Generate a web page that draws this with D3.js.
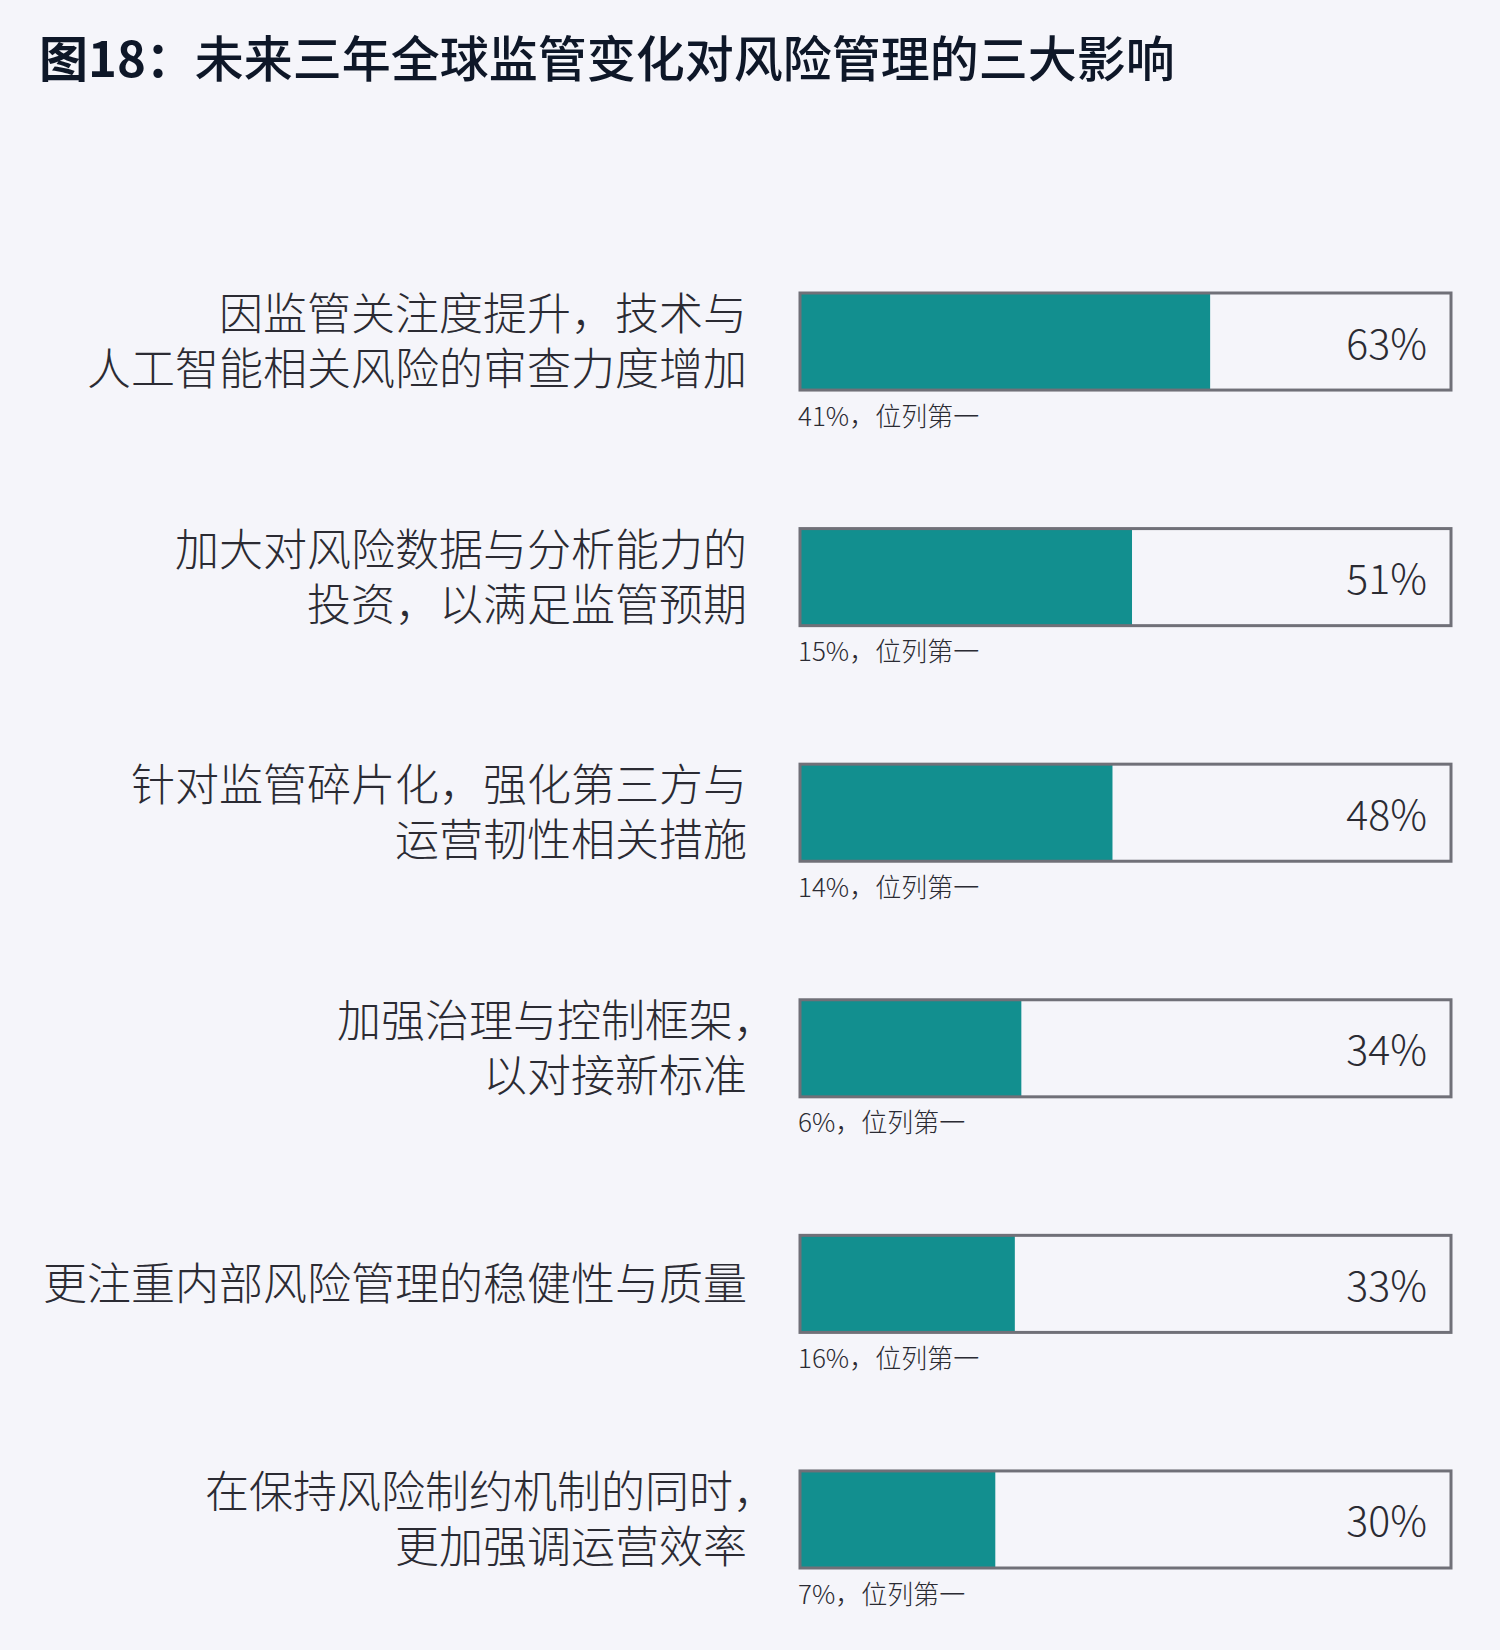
<!DOCTYPE html>
<html>
<head>
<meta charset="utf-8">
<script src="https://cdn.jsdelivr.net/npm/d3@7"></script>
<style>
  html, body { margin: 0; padding: 0; background: #f5f5fa; }
  text { font-family: "Noto Sans CJK SC", "Noto Sans", sans-serif; }
  .halt { font-feature-settings: "halt"; }
</style>
</head>
<body>
<div id="chart"></div>
<script>
// Chart data.
const titleLead = "图18：";
const titleRest = "未来三年全球监管变化对风险管理的三大影响";
const categories = [
  ["因监管关注度提升，技术与", "人工智能相关风险的审查力度增加"],
  ["加大对风险数据与分析能力的", "投资，以满足监管预期"],
  ["针对监管碎片化，强化第三方与", "运营韧性相关措施"],
  ["加强治理与控制框架，", "以对接新标准"],
  ["更注重内部风险管理的稳健性与质量"],
  ["在保持风险制约机制的同时，", "更加强调运营效率"]
];
const totalValues = [63, 51, 48, 34, 33, 30];
const firstRankValues = [41, 15, 14, 6, 16, 7];

// Dimensions.
const w = 1500;
const h = 1650;

const svg = d3.select("#chart")
  .append("svg")
  .attr("width", w)
  .attr("height", h);

// Title.
const title = svg.append("text")
  .attr("x", 39)
  .attr("y", 55)
  .attr("dominant-baseline", "central")
  .attr("font-size", 49)
  .attr("fill", "#0e1728");
title.append("tspan").attr("font-weight", 700).text(titleLead);
title.append("tspan").attr("font-weight", 500).text(titleRest);

// Scales.
const idx = d3.range(categories.length);
const yScale = d3.scaleBand()
  .domain(idx)
  .range([293, 1568])
  .paddingInner(0.588)
  .paddingOuter(0);

const xScale = d3.scaleLinear()
  .domain([0, 100])
  .range([800, 1451]);

const rows = svg.selectAll("g.row")
  .data(idx)
  .enter()
  .append("g")
  .attr("class", "row");

// Filled part of bar.
rows.append("rect")
  .attr("x", xScale(0))
  .attr("y", i => yScale(i))
  .attr("width", i => xScale(totalValues[i]) - xScale(0))
  .attr("height", yScale.bandwidth())
  .attr("fill", "#128f8f");

// Outline of bar (full 100%).
rows.append("rect")
  .attr("x", xScale(0))
  .attr("y", i => yScale(i))
  .attr("width", xScale(100) - xScale(0))
  .attr("height", yScale.bandwidth())
  .attr("fill", "none")
  .attr("stroke", "#707078")
  .attr("stroke-width", 3);

// Value label inside bar, right side.
rows.append("text")
  .attr("x", 1427)
  .attr("y", i => yScale(i) + yScale.bandwidth() / 2 - 1)
  .attr("text-anchor", "end")
  .attr("dominant-baseline", "central")
  .attr("font-size", 41)
  .attr("font-weight", 300)
  .attr("fill", "#2b2b33")
  .text(i => totalValues[i] + "%");

// Rank-one share below bar.
rows.append("text")
  .attr("x", 798)
  .attr("y", i => yScale(i) + yScale.bandwidth() + 24)
  .attr("dominant-baseline", "central")
  .attr("font-size", 26)
  .attr("font-weight", 300)
  .attr("fill", "#2b2b33")
  .text(i => firstRankValues[i] + "%，位列第一");

// Category labels, right aligned, one or two lines.
// A trailing comma is drawn narrow, as in the source.
const lineGap = 55;
rows.each(function (i) {
  const lines = categories[i];
  const cy = yScale(i) + yScale.bandwidth() / 2 - 3;
  const start = cy - (lines.length - 1) * lineGap / 2;
  const t = d3.select(this).selectAll("text.cat")
    .data(lines)
    .enter()
    .append("text")
    .attr("class", "cat")
    .attr("x", 747)
    .attr("y", (d, j) => start + j * lineGap)
    .attr("text-anchor", "end")
    .attr("dominant-baseline", "central")
    .attr("font-size", 44)
    .attr("font-weight", 300)
    .attr("fill", "#2b2b33");
  t.each(function (d) {
    const el = d3.select(this);
    if (d.endsWith("，")) {
      el.append("tspan").text(d.slice(0, -1));
      el.append("tspan")
        .attr("class", "halt")
        .attr("letter-spacing", -8)
        .text("，");
    } else {
      el.text(d);
    }
  });
});
</script>
</body>
</html>
